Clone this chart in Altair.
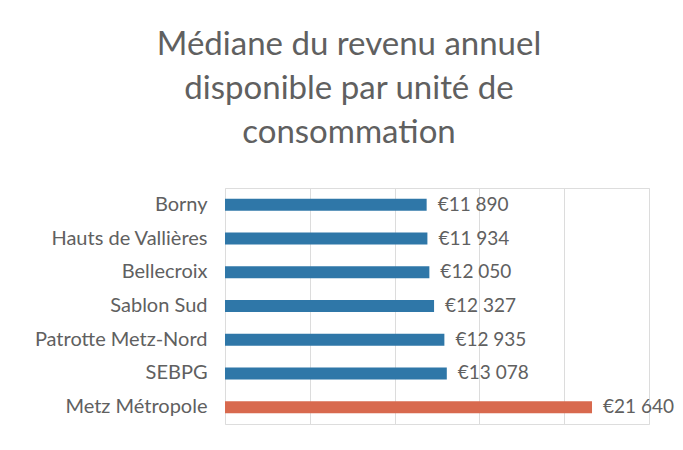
import altair as alt
import pandas as pd

categories = ["Borny", "Hauts de Vallières", "Bellecroix", "Sablon Sud",
              "Patrotte Metz-Nord", "SEBPG", "Metz Métropole"]
values = [11890, 11934, 12050, 12327, 12935, 13078, 21640]
groups = ["quartier", "quartier", "quartier", "quartier", "quartier", "quartier", "metropole"]
x_ticks = [0, 5000, 10000, 15000, 20000, 25000]

df = pd.DataFrame({"cat": categories, "val": values, "grp": groups})
df["label"] = df["val"].map(lambda v: "€" + f"{v:,}".replace(",", " "))

FONT = "Lato"
GRAY = "#606060"

base = alt.Chart(df).encode(
    y=alt.Y("cat:N", sort=categories, title=None,
            axis=alt.Axis(labelFont=FONT, labelFontSize=20, labelColor=GRAY,
                          labelPadding=18, ticks=False, domain=False, grid=False)),
)

bars = base.mark_bar(size=12).encode(
    x=alt.X("val:Q", scale=alt.Scale(domain=[0, 25000], nice=False), title=None,
            axis=alt.Axis(values=x_ticks, labels=False, ticks=False, domain=False,
                          grid=True, gridColor="#dcdcdc", gridWidth=1)),
    color=alt.Color("grp:N", scale=alt.Scale(domain=["quartier", "metropole"],
                                             range=["#2f77a8", "#d8694e"]), legend=None),
)

labels = base.mark_text(align="left", baseline="middle", dx=11, font=FONT,
                        fontSize=19, color=GRAY).encode(
    x=alt.X("val:Q"),
    text="label:N",
)

chart = (bars + labels).properties(
    width=424, height=236,
    title=alt.TitleParams(
        ["Médiane du revenu annuel", "disponible par unité de", "consommation"],
        font=FONT, fontSize=33, fontWeight="normal", color=GRAY,
        anchor="middle", dx=-88, offset=38, lineHeight=44,
    ),
    autosize=alt.AutoSizeParams(type="none"),
    padding={"left": 217, "top": 180, "right": 26, "bottom": 18},
).configure_view(stroke="transparent", strokeWidth=0).configure(background="white")

chart.save("out.html", embed_options={"renderer": "svg", "actions": False})
